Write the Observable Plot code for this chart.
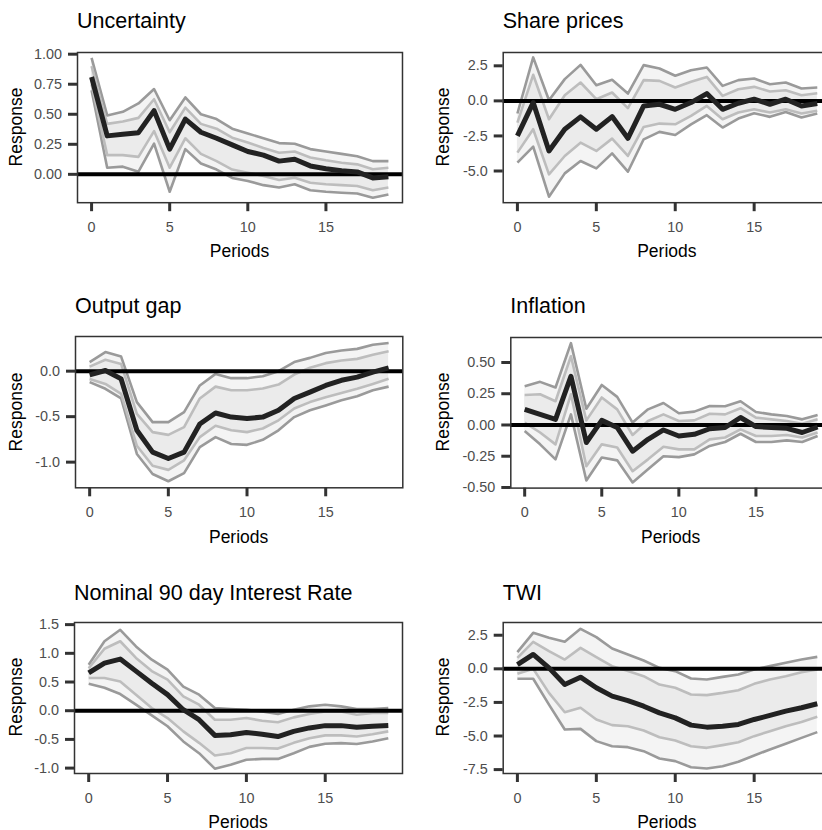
<!DOCTYPE html>
<html><head><meta charset="utf-8">
<script src="https://cdn.jsdelivr.net/npm/d3@7"></script>
<script src="https://cdn.jsdelivr.net/npm/@observablehq/plot@0.6"></script>
<style>
html,body{margin:0;padding:0;background:#fff;}
body{width:822px;height:830px;overflow:hidden;position:relative;font-family:"Liberation Sans",Arial,sans-serif;}
.lbl{position:absolute;white-space:nowrap;line-height:1;color:#000;}
.ttl{font-size:21.5px;}
.axt{font-size:17.5px;}
svg.plot{position:absolute;}
</style></head><body>
<script>
// ---------- data ----------
const periods = [0,1,2,3,4,5,6,7,8,9,10,11,12,13,14,15,16,17,18,19];
const xTicks = [0,5,10,15];

// Uncertainty
const uncMed  = [0.81,0.32,0.333,0.347,0.53,0.21,0.46,0.35,0.30,0.245,0.19,0.16,0.11,0.125,0.07,0.047,0.03,0.02,-0.03,-0.02];
const uncHi90 = [0.97,0.49,0.52,0.59,0.71,0.45,0.64,0.50,0.46,0.38,0.34,0.30,0.26,0.255,0.21,0.19,0.17,0.15,0.11,0.11];
const uncHi68 = [0.90,0.42,0.44,0.47,0.625,0.35,0.555,0.42,0.38,0.305,0.265,0.22,0.18,0.19,0.14,0.117,0.097,0.083,0.042,0.055];
const uncLo68 = [0.75,0.16,0.16,0.145,0.36,0.055,0.30,0.17,0.11,0.04,0.014,-0.014,-0.047,-0.028,-0.07,-0.083,-0.09,-0.097,-0.133,-0.11];
const uncLo90 = [0.70,0.055,0.064,0.022,0.255,-0.145,0.21,0.09,0.04,-0.03,-0.055,-0.09,-0.11,-0.083,-0.133,-0.145,-0.153,-0.16,-0.195,-0.167];
const uncTicks = [0,0.25,0.5,0.75,1];

// Share prices
const shrMed  = [-2.5,-0.12,-3.57,-2.02,-1.14,-2.02,-1.12,-2.67,-0.36,-0.24,-0.6,-0.12,0.52,-0.6,-0.17,0.12,-0.24,0.12,-0.36,-0.19];
const shrHi90 = [-0.9,3.1,0.05,1.55,2.57,1.12,1.5,0.52,2.55,2.31,1.79,2.19,2.38,1.07,1.48,1.6,1.19,1.31,0.88,0.95];
const shrHi68 = [-1.55,1.86,-1.31,0.4,1.31,0.12,0.6,-0.52,1.48,1.43,0.95,1.36,1.71,0.36,0.83,1.0,0.67,0.76,0.4,0.55];
const shrLo68 = [-3.69,-2.02,-5.24,-3.93,-2.98,-3.57,-2.69,-3.93,-1.86,-1.62,-1.67,-1.07,-0.36,-1.31,-0.83,-0.6,-0.83,-0.6,-0.9,-0.71];
const shrLo90 = [-4.4,-3.26,-6.83,-5.17,-4.29,-4.81,-3.74,-5.05,-2.74,-2.21,-2.43,-1.67,-1.02,-1.9,-1.26,-0.88,-1.14,-0.79,-1.19,-0.9];
const shrTicks = [-5,-2.5,0,2.5];

// Output gap
const gapMed  = [-0.04,0.007,-0.085,-0.65,-0.89,-0.96,-0.89,-0.58,-0.46,-0.505,-0.52,-0.505,-0.43,-0.30,-0.23,-0.157,-0.10,-0.066,-0.01,0.037];
const gapHi90 = [0.1,0.21,0.16,-0.34,-0.56,-0.56,-0.45,-0.157,-0.03,-0.077,-0.077,-0.055,0.0,0.1,0.146,0.2,0.227,0.245,0.29,0.31];
const gapHi68 = [0.05,0.125,0.08,-0.47,-0.67,-0.70,-0.615,-0.30,-0.17,-0.21,-0.21,-0.19,-0.147,-0.037,0.037,0.088,0.117,0.135,0.18,0.22];
const gapLo68 = [-0.085,-0.14,-0.25,-0.82,-1.04,-1.085,-0.98,-0.725,-0.6,-0.65,-0.67,-0.63,-0.54,-0.41,-0.34,-0.286,-0.24,-0.194,-0.14,-0.084];
const gapLo90 = [-0.12,-0.194,-0.30,-0.91,-1.13,-1.21,-1.12,-0.835,-0.725,-0.80,-0.81,-0.755,-0.65,-0.505,-0.43,-0.377,-0.32,-0.275,-0.21,-0.17];
const gapTicks = [-1,-0.5,0];

// Inflation
const infMed  = [0.125,0.085,0.045,0.39,-0.14,0.037,-0.02,-0.21,-0.115,-0.04,-0.088,-0.075,-0.03,-0.02,0.06,-0.013,-0.02,-0.027,-0.06,-0.016];
const infHi90 = [0.31,0.345,0.30,0.655,0.13,0.32,0.225,0.019,0.125,0.176,0.094,0.107,0.152,0.15,0.19,0.104,0.085,0.072,0.045,0.08];
const infHi68 = [0.24,0.246,0.19,0.55,0.037,0.22,0.125,-0.08,0.032,0.085,0.032,0.037,0.09,0.085,0.134,0.059,0.045,0.032,0.01,0.045];
const infLo68 = [0.019,-0.06,-0.155,0.246,-0.33,-0.155,-0.18,-0.37,-0.275,-0.174,-0.195,-0.195,-0.115,-0.1,-0.035,-0.088,-0.088,-0.08,-0.1,-0.06];
const infLo90 = [-0.048,-0.155,-0.275,0.085,-0.444,-0.26,-0.283,-0.46,-0.355,-0.25,-0.257,-0.235,-0.168,-0.136,-0.07,-0.136,-0.136,-0.123,-0.136,-0.088];
const infTicks = [-0.5,-0.25,0,0.25,0.5];

// Nominal 90 day Interest Rate
const rateMed  = [0.66,0.83,0.90,0.69,0.48,0.28,0.017,-0.157,-0.43,-0.42,-0.38,-0.41,-0.45,-0.36,-0.30,-0.26,-0.26,-0.29,-0.27,-0.256];
const rateHi90 = [0.80,1.21,1.41,1.12,0.89,0.715,0.42,0.28,0.047,0.03,0.017,-0.012,-0.058,0.017,0.076,0.105,0.076,0.03,0.03,0.047];
const rateHi68 = [0.74,1.08,1.21,0.92,0.69,0.54,0.25,0.105,-0.157,-0.157,-0.128,-0.174,-0.20,-0.116,-0.058,-0.012,-0.012,-0.07,-0.04,-0.04];
const rateLo68 = [0.57,0.57,0.51,0.28,0.047,-0.128,-0.36,-0.56,-0.78,-0.74,-0.65,-0.65,-0.66,-0.56,-0.48,-0.43,-0.43,-0.45,-0.41,-0.36];
const rateLo90 = [0.47,0.40,0.29,0.105,-0.08,-0.27,-0.535,-0.74,-1.01,-0.94,-0.855,-0.84,-0.84,-0.74,-0.63,-0.575,-0.565,-0.58,-0.535,-0.48];
const rateTicks = [-1,-0.5,0,0.5,1,1.5];

// TWI
const twiMed  = [0.32,1.07,0.07,-1.17,-0.62,-1.41,-2.03,-2.36,-2.78,-3.28,-3.65,-4.19,-4.34,-4.27,-4.14,-3.77,-3.47,-3.15,-2.90,-2.6];
const twiHi90 = [1.24,2.68,2.31,2.01,2.98,2.36,1.51,1.07,0.62,0.07,-0.17,-0.72,-0.79,-0.6,-0.42,-0.05,0.2,0.45,0.69,0.89];
const twiHi68 = [0.82,2.01,1.32,0.69,1.56,0.87,0.2,-0.17,-0.55,-1.17,-1.41,-1.91,-1.96,-1.79,-1.59,-1.12,-0.79,-0.55,-0.25,-0.05];
const twiLo68 = [-0.37,0.0,-1.79,-3.23,-2.9,-3.77,-4.19,-4.27,-4.59,-5.09,-5.34,-5.76,-5.88,-5.68,-5.46,-5.01,-4.64,-4.27,-3.95,-3.57];
const twiLo90 = [-0.74,-0.74,-2.66,-4.52,-4.47,-5.38,-5.76,-5.83,-6.13,-6.67,-6.87,-7.32,-7.42,-7.25,-6.92,-6.45,-6.0,-5.58,-5.14,-4.71];
const twiTicks = [-7.5,-5,-2.5,0,2.5];

// ---------- layout ----------
const panels = [
  {title:"Uncertainty", med:uncMed, hi90:uncHi90, hi68:uncHi68, lo68:uncLo68, lo90:uncLo90, yTicks:uncTicks, digits:2,
   cellLeft:0, l:77, r:402, t:51.5, b:201.7, yDomain:[-0.236,1.014], tb:29, rx:16.7},
  {title:"Share prices", med:shrMed, hi90:shrHi90, hi68:shrHi68, lo68:shrLo68, lo90:shrLo90, yTicks:shrTicks, digits:1,
   cellLeft:411, l:502.7, r:831, t:51.5, b:201.7, yDomain:[-7.26,3.45], tb:28.7, rx:444.4},
  {title:"Output gap", med:gapMed, hi90:gapHi90, hi68:gapHi68, lo68:gapLo68, lo90:gapLo90, yTicks:gapTicks, digits:1,
   cellLeft:0, l:75, r:402.3, t:336, b:487.3, yDomain:[-1.282,0.381], tb:314, rx:16.7},
  {title:"Inflation", med:infMed, hi90:infHi90, hi68:infHi68, lo68:infLo68, lo90:infLo90, yTicks:infTicks, digits:2,
   cellLeft:411, l:510.3, r:831, t:336.7, b:487.3, yDomain:[-0.505,0.70], tb:314, rx:444.4},
  {title:"Nominal 90 day Interest Rate", med:rateMed, hi90:rateHi90, hi68:rateHi68, lo68:rateLo68, lo90:rateLo90, yTicks:rateTicks, digits:1,
   cellLeft:0, l:74, r:402, t:621.7, b:772.7, yDomain:[-1.094,1.537], tb:601.5, rx:16.7},
  {title:"TWI", med:twiMed, hi90:twiHi90, hi68:twiHi68, lo68:twiLo68, lo90:twiLo90, yTicks:twiTicks, digits:1,
   cellLeft:411, l:502.7, r:831, t:621.7, b:772.7, yDomain:[-7.79,3.447], tb:600.7, rx:444.4}
];

function addLabel(text, cls, css) {
  const d = document.createElement("div");
  d.className = "lbl " + cls;
  d.textContent = text;
  Object.assign(d.style, css);
  document.body.appendChild(d);
  return d;
}

const FONT = '"Liberation Sans", Arial, sans-serif';

for (const p of panels) {
  const rows = periods.map((x, i) => ({x, med:p.med[i], hi90:p.hi90[i], hi68:p.hi68[i], lo68:p.lo68[i], lo90:p.lo90[i]}));
  const mt = 12, mb = 40, mr = 4;
  const fmt = d => d.toFixed(p.digits);
  const lineOpts = {x:"x", strokeLinecap:"butt", strokeLinejoin:"round"};
  const chart = Plot.plot({
    width: p.r + mr - p.cellLeft,
    height: (p.b - p.t) + mt + mb,
    marginLeft: p.l - p.cellLeft, marginRight: mr, marginTop: mt, marginBottom: mb,
    style: {fontFamily: FONT, fontSize: "14.4px", background: "transparent", overflow: "visible"},
    x: {domain: [-0.9, 19.9]},
    y: {domain: p.yDomain},
    marks: [
      Plot.areaY(rows, {x:"x", y1:"lo90", y2:"hi90", fill:"#f4f4f4"}),
      Plot.areaY(rows, {x:"x", y1:"lo68", y2:"hi68", fill:"#ebebeb"}),
      Plot.lineY(rows, {...lineOpts, y:"lo90", stroke:"#9a9a9a", strokeWidth:2.6}),
      Plot.lineY(rows, {...lineOpts, y:"hi90", stroke:"#9a9a9a", strokeWidth:2.6}),
      Plot.lineY(rows, {...lineOpts, y:"lo68", stroke:"#bdbdbd", strokeWidth:2.6}),
      Plot.lineY(rows, {...lineOpts, y:"hi68", stroke:"#bdbdbd", strokeWidth:2.6}),
      Plot.ruleY([0], {stroke:"#000", strokeWidth:4}),
      Plot.lineY(rows, {...lineOpts, y:"med", stroke:"#222", strokeWidth:5}),
      Plot.frame({stroke:"#333", strokeWidth:1.5}),
      Plot.axisY({ticks:p.yTicks, tickFormat:fmt, tickSize:9, tickPadding:6.5, stroke:"#333", strokeWidth:3,
                  fill:"#4d4d4d", fontSize:14.4, label:null}),
      Plot.axisX({ticks:xTicks, tickFormat:d => String(d), tickSize:9, tickPadding:10, stroke:"#333", strokeWidth:3,
                  fill:"#4d4d4d", fontSize:14.4, label:null})
    ]
  });
  chart.classList.add("plot");
  chart.style.left = p.cellLeft + "px";
  chart.style.top = (p.t - mt) + "px";
  document.body.appendChild(chart);

  // panel title
  addLabel(p.title, "ttl", {left: p.l + "px", top: (p.tb - 0.8465 * 21.5) + "px"});
  // x axis title
  addLabel("Periods", "axt", {left: ((p.l + p.r) / 2) + "px", top: (p.b + 56.3 - 0.8465 * 17.5) + "px",
                                transform: "translateX(-50%)"});
  // y axis title
  addLabel("Response", "axt", {left: p.rx + "px", top: ((p.t + p.b) / 2) + "px",
                                 transform: "translate(-50%,-50%) rotate(-90deg)"});
}
</script>
</body></html>
